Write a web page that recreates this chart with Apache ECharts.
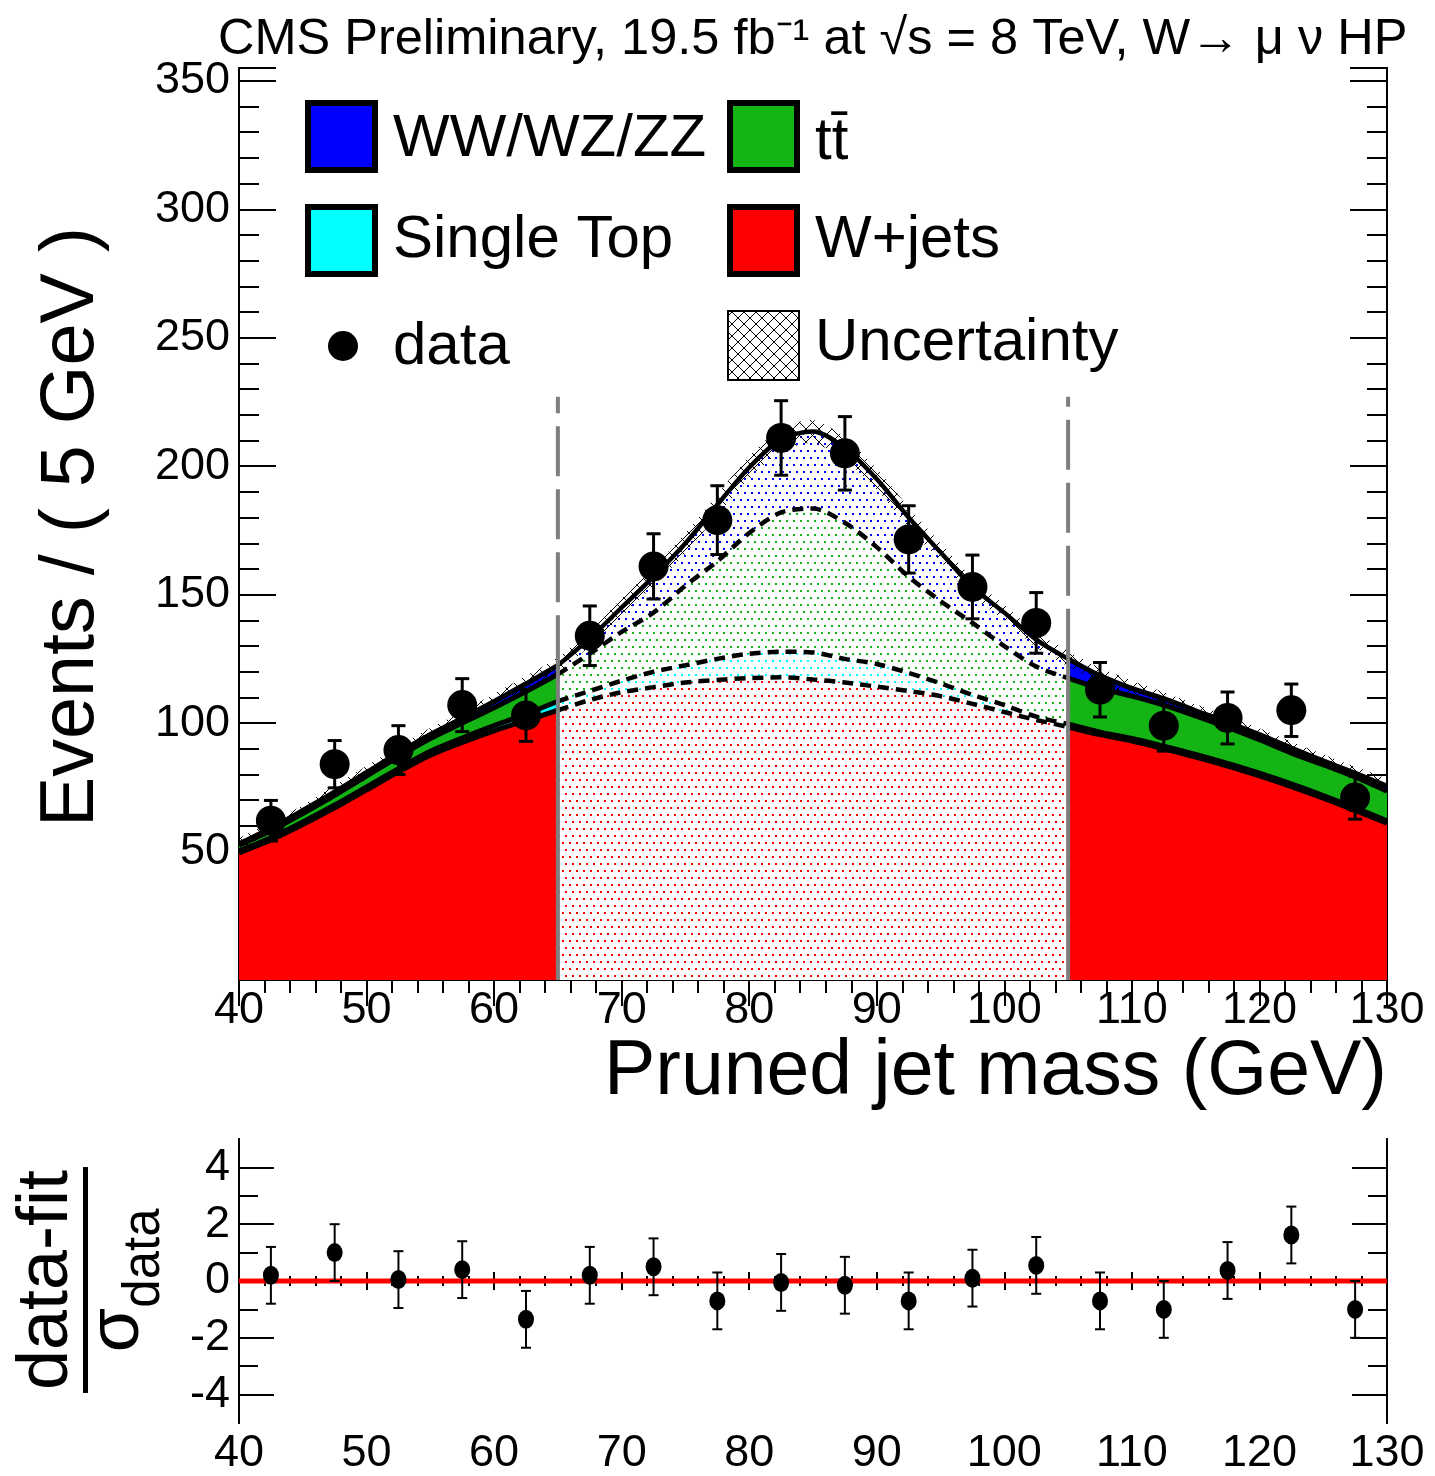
<!DOCTYPE html>
<html>
<head>
<meta charset="utf-8">
<script src="https://cdn.jsdelivr.net/npm/echarts@6/dist/echarts.min.js"></script>
<style>
  html, body { margin: 0; padding: 0; background: #fff; }
  #chart { width: 1435px; height: 1476px; }
</style>
</head>
<body>
<div id="chart"></div>
<script>
// fit grid in pruned jet mass (GeV)
var massGrid = [40, 42.5, 45, 47.5, 50, 52.5, 55, 57.5, 60, 62.5, 65, 67.5, 70, 72.5, 75, 77.5, 80, 82.5, 85,
    87.5, 90, 92.5, 95, 97.5, 100, 102.5, 105, 107.5, 110, 112.5, 115, 117.5, 120, 122.5, 125, 127.5, 130];
// fitted components (events / 5 GeV)
var wjets = [49.5, 54.5, 60.5, 67, 74, 81, 87.5, 92.5, 97, 101, 105, 109, 112, 114, 115.8, 116.8, 117.5, 117.8, 117,
    115.8, 114.2, 112.5, 110.5, 107.5, 104.3, 101.2, 98.5, 95.5, 93, 90, 86.8, 83.3, 79.5, 75.3, 70.8, 66, 61];
var singleTop = [0.8, 0.9, 1, 1.1, 1.2, 1.3, 1.5, 1.7, 2, 2.5, 3.5, 3.5, 4.5, 6, 6.7, 8.2, 9.5, 10, 10.5,
    9.2, 8.8, 7, 5, 3.5, 2.7, 1.3, 1.2, 1, 1, 1, 1, 1, 1, 1, 1, 1, 1];
var ttbar = [2.2, 2.7, 3.3, 3.8, 4.2, 4.6, 5, 5.8, 7, 8.8, 10.5, 14.5, 19, 23, 31, 38, 47, 54.2, 56,
    53, 45.5, 37.5, 32, 28, 23, 19.5, 17.8, 17, 16.5, 16, 15, 14, 13, 12, 12, 12, 11.5];
var diboson = [0.5, 1, 1.2, 1.3, 1.4, 1.5, 1.6, 1.9, 2.4, 3, 3.5, 6, 9.5, 14, 16.5, 22, 25.5, 28.5, 30,
    29, 26.5, 23, 19, 14, 13, 10.5, 7.5, 5, 3, 2.5, 2, 2, 2, 2, 1.5, 1.5, 2];
var uncert = [2, 2, 2, 2.5, 2.5, 2.5, 2.5, 2.5, 3, 3, 3, 3, 3.5, 3.5, 4, 4, 4.5, 4.5, 4.5,
    4.5, 4, 4, 3.5, 3.5, 3, 3, 3, 3, 3, 2.5, 2.5, 2.5, 2.5, 2.5, 2.5, 2.5, 2.5];

// data points
var binCenters = [42.5, 47.5, 52.5, 57.5, 62.5, 67.5, 72.5, 77.5, 82.5, 87.5, 92.5, 97.5, 102.5, 107.5, 112.5, 117.5, 122.5, 127.5];
var dataCounts = [62, 84, 89.5, 107, 103, 134, 161, 179, 211, 205, 171.5, 153, 139, 113, 99, 102, 105, 71];
var dataErr = [7.9, 9.2, 9.5, 10.3, 10.1, 11.6, 12.7, 13.4, 14.5, 14.3, 13.1, 12.4, 11.8, 10.6, 9.9, 10.1, 10.2, 8.4];
// pulls (data-fit)/sigma
var pulls = [0.2, 1.0, 0.05, 0.4, -1.35, 0.2, 0.5, -0.7, -0.05, -0.15, -0.7, 0.1, 0.55, -0.7, -1.0, 0.37, 1.62, -1.0];
var pullErr = [1, 1, 1, 1, 1, 1, 1, 1, 1, 1, 1, 1, 1, 1, 1, 1, 1, 1];

// signal window
var sigLo = 65, sigHi = 105, windowLineTop = 227;
var lowerMajor = [-4, -2, 0, 2, 4];
var lowerMinor = [-3, -1, 1, 3];

var FONT = 'Liberation Sans, Arial, Helvetica, sans-serif';
var RED = '#ff0000', CYAN = '#00ffff', GREEN = '#14b414', BLUE = '#0000ff';

function dotPattern(color) {
    var c = document.createElement('canvas');
    c.width = 14; c.height = 14;
    var g = c.getContext('2d');
    g.fillStyle = '#fff';
    g.fillRect(0, 0, 14, 14);
    g.fillStyle = color;
    g.fillRect(2, 2, 2, 2); g.fillRect(9, 2, 2, 2);
    g.fillRect(5, 9, 2, 2); g.fillRect(12, 9, 2, 2);
    return { image: c, repeat: 'repeat' };
}
function hatchPattern(size) {
    var c = document.createElement('canvas');
    c.width = size; c.height = size;
    var g = c.getContext('2d');
    g.strokeStyle = '#000';
    g.lineWidth = 1;
    g.beginPath();
    g.moveTo(0, 0); g.lineTo(size, size);
    g.moveTo(size, 0); g.lineTo(0, size);
    g.stroke();
    return { image: c, repeat: 'repeat' };
}

// cumulative levels: W, W+ST, W+ST+tt, total
var cum = [[], [], [], []];
massGrid.forEach(function (x, i) {
    cum[0].push(wjets[i]);
    cum[1].push(cum[0][i] + singleTop[i]);
    cum[2].push(cum[1][i] + ttbar[i]);
    cum[3].push(cum[2][i] + diboson[i]);
});
var total = cum[3];
var colors = [RED, CYAN, GREEN, BLUE];

var regions = [
    { a: massGrid.indexOf(40), b: massGrid.indexOf(sigLo), signal: false },
    { a: massGrid.indexOf(sigLo), b: massGrid.indexOf(sigHi), signal: true },
    { a: massGrid.indexOf(sigHi), b: massGrid.indexOf(130), signal: false }
];

var series = [];
function slice(arr, r) {
    var d = [];
    for (var i = r.a; i <= r.b; i++) d.push([massGrid[i], arr[i]]);
    return d;
}
regions.forEach(function (r) {
    // areas painted from the top level down, each filled to zero
    for (var k = 3; k >= 0; k--) {
        series.push({
            type: 'line', xAxisIndex: 0, yAxisIndex: 0, data: slice(cum[k], r),
            smooth: 0.3, symbol: 'none', silent: true, z: 2,
            lineStyle: { opacity: 0 },
            areaStyle: { color: r.signal ? dotPattern(colors[k]) : colors[k], opacity: 1, origin: 'start' }
        });
    }
    for (var j = 0; j < 4; j++) {
        series.push({
            type: 'line', xAxisIndex: 0, yAxisIndex: 0, data: slice(cum[j], r),
            smooth: 0.3, symbol: 'none', silent: true, z: 3,
            lineStyle: { color: '#000', width: r.signal ? 4.5 : 5, type: (r.signal && j < 3) ? [11, 7] : 'solid' }
        });
    }
});

// uncertainty band around the total
series.push({
    type: 'custom', xAxisIndex: 0, yAxisIndex: 0, z: 4, silent: true,
    data: [[massGrid[0], total[0]]],
    encode: { x: 0, y: 1 },
    renderItem: function (params, api) {
        var pts = [];
        massGrid.forEach(function (x, i) { pts.push(api.coord([x, total[i] + uncert[i]])); });
        for (var i = massGrid.length - 1; i >= 0; i--) pts.push(api.coord([massGrid[i], total[i] - uncert[i]]));
        return { type: 'polygon', shape: { points: pts, smooth: 0.2 }, style: { fill: hatchPattern(13) } };
    }
});

// signal window lines
[sigLo, sigHi].forEach(function (xv) {
    var top = total[massGrid.indexOf(xv)];
    series.push({
        type: 'line', xAxisIndex: 0, yAxisIndex: 0, symbol: 'none', silent: true, z: 5,
        data: [[xv, 0], [xv, top]],
        lineStyle: { color: '#7f7f7f', width: 4 }
    });
    series.push({
        type: 'line', xAxisIndex: 0, yAxisIndex: 0, symbol: 'none', silent: true, z: 5,
        data: [[xv, top], [xv, windowLineTop]],
        lineStyle: { color: '#7f7f7f', width: 4, type: [50, 13] }
    });
});

function errorBars(cap, width) {
    return function (params, api) {
        var x = api.value(0), y = api.value(1), e = api.value(2);
        var p1 = api.coord([x, y - e]), p2 = api.coord([x, y + e]);
        var st = { stroke: '#000', lineWidth: width };
        return {
            type: 'group', children: [
                { type: 'line', shape: { x1: p1[0], y1: p1[1], x2: p2[0], y2: p2[1] }, style: st },
                { type: 'line', shape: { x1: p1[0] - cap, y1: p1[1], x2: p1[0] + cap, y2: p1[1] }, style: st },
                { type: 'line', shape: { x1: p2[0] - cap, y1: p2[1], x2: p2[0] + cap, y2: p2[1] }, style: st }
            ]
        };
    };
}

series.push({
    type: 'custom', xAxisIndex: 0, yAxisIndex: 0, z: 6, silent: true,
    data: binCenters.map(function (x, i) { return [x, dataCounts[i], dataErr[i]]; }),
    encode: { x: 0, y: 1 },
    renderItem: errorBars(7, 3)
});
series.push({
    type: 'scatter', xAxisIndex: 0, yAxisIndex: 0, z: 7, silent: true,
    symbol: 'circle', symbolSize: 30, itemStyle: { color: '#000', opacity: 1 },
    data: binCenters.map(function (x, i) { return [x, dataCounts[i]]; })
});

// lower panel
series.push({
    type: 'line', xAxisIndex: 2, yAxisIndex: 4, symbol: 'none', silent: true, z: 2,
    data: [[40, 0], [130, 0]],
    lineStyle: { color: RED, width: 5 }
});
series.push({
    type: 'custom', xAxisIndex: 2, yAxisIndex: 4, z: 6, silent: true,
    data: binCenters.map(function (x, i) { return [x, pulls[i], pullErr[i]]; }),
    encode: { x: 0, y: 1 },
    renderItem: errorBars(5, 2)
});
series.push({
    type: 'scatter', xAxisIndex: 2, yAxisIndex: 4, z: 7, silent: true,
    symbol: 'circle', symbolSize: [16, 19], itemStyle: { color: '#000', opacity: 1 },
    data: binCenters.map(function (x, i) { return [x, pulls[i]]; })
});

function xAxis(grid, pos, showLabel, tickLen, minorLen) {
    return {
        type: 'value', gridIndex: grid, position: pos, min: 40, max: 130, interval: 10,
        axisLine: { show: true, lineStyle: { color: '#000', width: 2 } },
        axisTick: { show: true, inside: true, length: tickLen, lineStyle: { color: '#000', width: 2 } },
        minorTick: { show: true, splitNumber: 5, length: minorLen, lineStyle: { color: '#000', width: 2 } },
        axisLabel: { show: showLabel, fontSize: 45, fontFamily: FONT, color: '#000', margin: 8, showMinLabel: true, showMaxLabel: true },
        splitLine: { show: false }, minorSplitLine: { show: false }
    };
}
function yMain(pos, interval, tickLen, showLabel) {
    return {
        type: 'value', gridIndex: 0, position: pos, min: 0, max: 355, interval: interval,
        axisLine: { show: true, lineStyle: { color: '#000', width: 2 } },
        axisTick: { show: true, inside: true, length: tickLen, lineStyle: { color: '#000', width: 2 } },
        axisLabel: {
            show: showLabel, fontSize: 45, fontFamily: FONT, color: '#000', margin: 9,
            formatter: function (v) { return (v > 0 && v % 50 === 0) ? String(v) : ''; }
        },
        splitLine: { show: false }
    };
}
function yLower(pos, values, tickLen, showLabel) {
    return {
        type: 'value', gridIndex: 1, position: pos, min: -5, max: 5,
        axisLine: { show: true, lineStyle: { color: '#000', width: 2 } },
        axisTick: { show: true, inside: true, length: tickLen, customValues: values, lineStyle: { color: '#000', width: 2 } },
        axisLabel: { show: showLabel, customValues: values, fontSize: 45, fontFamily: FONT, color: '#000', margin: 9 },
        splitLine: { show: false }
    };
}

function legendBox(x, y, color) {
    return {
        type: 'rect', shape: { x: x, y: y, width: 67, height: 67 },
        style: { fill: color, stroke: '#000', lineWidth: 6 }
    };
}
function label(x, y, txt, size, align, rotate) {
    return {
        type: 'text', x: x, y: y, rotation: rotate ? Math.PI / 2 : 0,
        style: { text: txt, fontSize: size, fontFamily: FONT, fill: '#000', align: align || 'left', verticalAlign: 'middle' }
    };
}

var graphics = [
    label(218, 40, 'CMS Preliminary, 19.5 fb\u207B\u00B9 at \u221As = 8 TeV, W\u2192 \u03BC \u03BD HP', 50.5),
    label(72, 527, 'Events / ( 5 GeV )', 75.5, 'center', true),
    label(1387, 1073, 'Pruned jet mass (GeV)', 77, 'right'),
    legendBox(308, 103, BLUE),
    legendBox(730, 103, GREEN),
    legendBox(308, 207, CYAN),
    legendBox(730, 207, RED),
    {
        type: 'rect', shape: { x: 728, y: 311, width: 71, height: 69 },
        style: { fill: hatchPattern(12), stroke: '#000', lineWidth: 2 }
    },
    { type: 'circle', shape: { cx: 343, cy: 346, r: 15 }, style: { fill: '#000' } },
    label(393, 139, 'WW/WZ/ZZ', 60),
    label(815, 142, 'tt\u0304', 60),
    label(393, 240, 'Single Top', 60),
    label(815, 240, 'W+jets', 60),
    label(393, 347, 'data', 60),
    label(815, 343, 'Uncertainty', 60),
    // lower panel y title
    label(47, 1280, 'data-fit', 72, 'center', true),
    { type: 'rect', shape: { x: 83, y: 1167, width: 5, height: 226 }, style: { fill: '#000' } },
    label(118, 1330, '\u03C3', 72, 'center', true),
    label(145, 1258, 'data', 51, 'center', true)
];
graphics.forEach(function (g) { g.z = 100; });

var chart = echarts.init(document.getElementById('chart'), null, { renderer: 'canvas' });
chart.setOption({
    animation: false,
    backgroundColor: '#fff',
    grid: [
        { left: 239, top: 68, width: 1148, height: 912 },
        { left: 239, top: 1139, width: 1148, height: 289 }
    ],
    xAxis: [
        xAxis(0, 'bottom', true, 26, 13),
        xAxis(0, 'top', false, 26, 13),
        xAxis(1, 'bottom', true, 9, 5),
        xAxis(1, 'top', false, 9, 5)
    ],
    yAxis: [
        yMain('left', 50, 37, true),
        yMain('left', 10, 20, false),
        yMain('right', 50, 37, false),
        yMain('right', 10, 20, false),
        yLower('left', lowerMajor, 35, true),
        yLower('left', lowerMinor, 19, false),
        yLower('right', lowerMajor, 35, false),
        yLower('right', lowerMinor, 19, false)
    ],
    series: series,
    graphic: graphics
});
</script>
</body>
</html>
